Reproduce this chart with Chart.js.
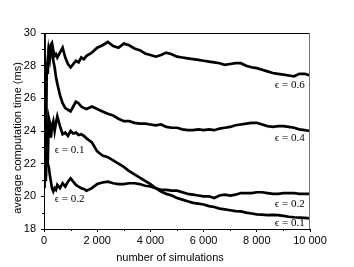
<!DOCTYPE html>
<html>
<head>
<meta charset="utf-8">
<script src="https://cdn.jsdelivr.net/npm/chart.js@4"></script>
<style>
  html,body{margin:0;padding:0;background:#fff;}
  #simChart{display:block;}
</style>
</head>
<body>
<canvas id="simChart" width="354" height="267"></canvas>
<script>
// DATA
const sims = [20,40,70,100,140,180,220,260,300,350,400,450,500,600,700,800,900,1000,1100,1200,1300,1400,1500,1600,1800,2000,
  2200,2400,2600,2800,3000,3200,3400,3600,3800,4000,4200,4400,4600,4800,5000,5200,5400,5600,5800,6000,
  6200,6400,6600,6800,7000,7200,7400,7600,7800,8000,8200,8400,8600,8800,9000,9200,9400,9600,9800,10000];

const eps06 = [30.0,21.0,26.5,28.2,27.5,28.9,28.5,29.3,29.4,28.9,28.6,28.7,28.5,28.8,29.1,28.5,28.1,27.9,28.1,28.3,28.2,28.5,28.4,28.6,28.8,29.1,
  29.25,29.45,29.2,29.1,29.35,29.25,29.05,28.95,28.75,28.65,28.55,28.65,28.8,28.7,28.55,28.5,28.45,28.4,28.35,28.3,
  28.25,28.2,28.15,28.05,28.1,28.15,28.15,28.0,27.9,27.85,27.75,27.65,27.55,27.5,27.45,27.4,27.35,27.5,27.5,27.4];

const eps04 = [23.0,27.0,22.5,27.5,28.3,29.1,29.0,28.9,28.7,28.3,27.9,27.3,26.9,26.2,25.7,25.4,25.3,25.2,25.5,25.8,25.7,25.5,25.4,25.35,25.5,25.35,
  25.2,25.05,24.95,24.75,24.6,24.6,24.5,24.45,24.45,24.4,24.35,24.4,24.25,24.2,24.2,24.1,24.05,24.05,24.1,24.05,
  24.1,24.05,24.15,24.2,24.25,24.35,24.4,24.45,24.5,24.5,24.4,24.3,24.25,24.3,24.3,24.25,24.2,24.1,24.05,24.0];

const eps02 = [26.0,22.0,25.0,23.5,22.0,21.8,21.3,20.9,20.5,20.3,20.5,20.4,20.7,20.5,20.8,20.6,20.9,21.1,20.9,20.7,20.6,20.5,20.45,20.35,20.5,20.75,
  20.85,20.9,20.8,20.75,20.75,20.8,20.8,20.75,20.65,20.6,20.5,20.4,20.4,20.35,20.35,20.25,20.15,20.1,20.05,20.0,
  20.0,19.9,20.05,20.1,20.05,20.1,20.2,20.2,20.2,20.25,20.25,20.2,20.15,20.15,20.2,20.2,20.2,20.15,20.15,20.15];

const eps01 = [20.5,24.5,21.2,23.2,22.0,24.8,24.5,23.6,24.3,24.6,24.0,24.5,24.9,24.3,23.8,23.9,23.7,24.0,23.85,23.9,23.75,23.8,23.7,23.55,23.3,22.75,
  22.5,22.4,22.2,22.0,21.8,21.55,21.35,21.15,20.95,20.75,20.5,20.3,20.15,20.05,19.9,19.8,19.7,19.6,19.55,19.5,
  19.4,19.35,19.25,19.2,19.15,19.1,19.08,19.0,18.95,18.9,18.88,18.85,18.87,18.85,18.8,18.75,18.72,18.7,18.68,18.65];

const xTickLabels = ['0','2 000','4 000','6 000','8 000','10 000'];
const yTickLabels = ['18','20','22','24','26','28','30'];

// curve labels: text, x (sims), y (ms), alignment
const labelText = ['\u03F5 = 0.6','\u03F5 = 0.4','\u03F5 = 0.2','\u03F5 = 0.1','\u03F5 = 0.1','\u03F5 = 0.2'];
const labelX = [9800,9800,9800,9800,400,400];
const labelY = [26.84,23.59,19.55,18.37,22.86,19.84];
const labelAlign = ['right','right','right','right','left','left'];

function toPoints(vals){ return vals.map((v,i)=>({x:sims[i],y:v})); }

function series(vals){
  return {data:toPoints(vals),borderColor:'#000',borderWidth:2.7,pointRadius:0,fill:false,tension:0};
}

// frame, minor ticks, axis titles, curve labels
const decorations = {
  id:'decorations',
  afterDraw(chart){
    const ctx = chart.ctx, a = chart.chartArea;
    const xs = chart.scales.x, ys = chart.scales.y;
    ctx.save();
    ctx.strokeStyle = '#000';
    ctx.lineWidth = 1;
    ctx.beginPath();
    ctx.moveTo(a.left, a.top+0.5); ctx.lineTo(a.right, a.top+0.5);
    ctx.stroke();
    ctx.strokeStyle = '#777';
    ctx.beginPath();
    ctx.moveTo(a.right-0.5, a.top); ctx.lineTo(a.right-0.5, a.bottom);
    ctx.stroke();

    ctx.strokeStyle = '#000';
    ctx.beginPath();
    for(let v=1000; v<10000; v+=2000){
      const px = Math.round(xs.getPixelForValue(v))+0.5;
      ctx.moveTo(px, a.bottom); ctx.lineTo(px, a.bottom+2);
    }
    for(let v=19; v<30; v+=2){
      const py = Math.round(ys.getPixelForValue(v))+0.5;
      ctx.moveTo(a.left, py); ctx.lineTo(a.left-2, py);
    }
    ctx.stroke();

    ctx.fillStyle = '#000';
    ctx.font = '11px "Liberation Sans", Arial, sans-serif';
    ctx.textAlign = 'center';
    ctx.textBaseline = 'middle';
    ctx.fillText('number of simulations', 170, 258);
    ctx.save();
    ctx.translate(18, 138);
    ctx.rotate(-Math.PI/2);
    ctx.fillText('average computation time (ms)', 0, 0);
    ctx.restore();

    ctx.font = '11px "Liberation Serif", "Times New Roman", serif';
    labelText.forEach((t,i)=>{
      ctx.textAlign = labelAlign[i];
      ctx.fillText(t, xs.getPixelForValue(labelX[i]), ys.getPixelForValue(labelY[i]));
    });
    ctx.restore();
  }
};

const tickFont = {family:'"Liberation Sans", Arial, sans-serif', size:11};

new Chart(document.getElementById('simChart').getContext('2d'),{
  type:'line',
  data:{datasets:[series(eps06),series(eps04),series(eps02),series(eps01)]},
  options:{
    responsive:false,
    animation:false,
    devicePixelRatio:1,
    layout:{padding:{left:0,right:44,top:33,bottom:0}},
    plugins:{legend:{display:false},tooltip:{enabled:false}},
    scales:{
      x:{
        type:'linear',min:0,max:10000,
        border:{display:true,color:'#000',width:1},
        grid:{drawOnChartArea:false,drawTicks:true,tickLength:3,color:'#000'},
        ticks:{stepSize:2000,color:'#000',font:tickFont,padding:2,maxRotation:0,
          callback:(v)=>xTickLabels[v/2000]},
        afterFit:(s)=>{s.height=38;}
      },
      y:{
        min:18,max:30,
        border:{display:true,color:'#000',width:1},
        grid:{drawOnChartArea:false,drawTicks:true,tickLength:3,color:'#000'},
        ticks:{stepSize:2,color:'#000',font:tickFont,padding:5,
          callback:(v)=>yTickLabels[(v-18)/2]},
        afterFit:(s)=>{s.width=44;}
      }
    }
  },
  plugins:[decorations]
});
</script>
</body>
</html>
